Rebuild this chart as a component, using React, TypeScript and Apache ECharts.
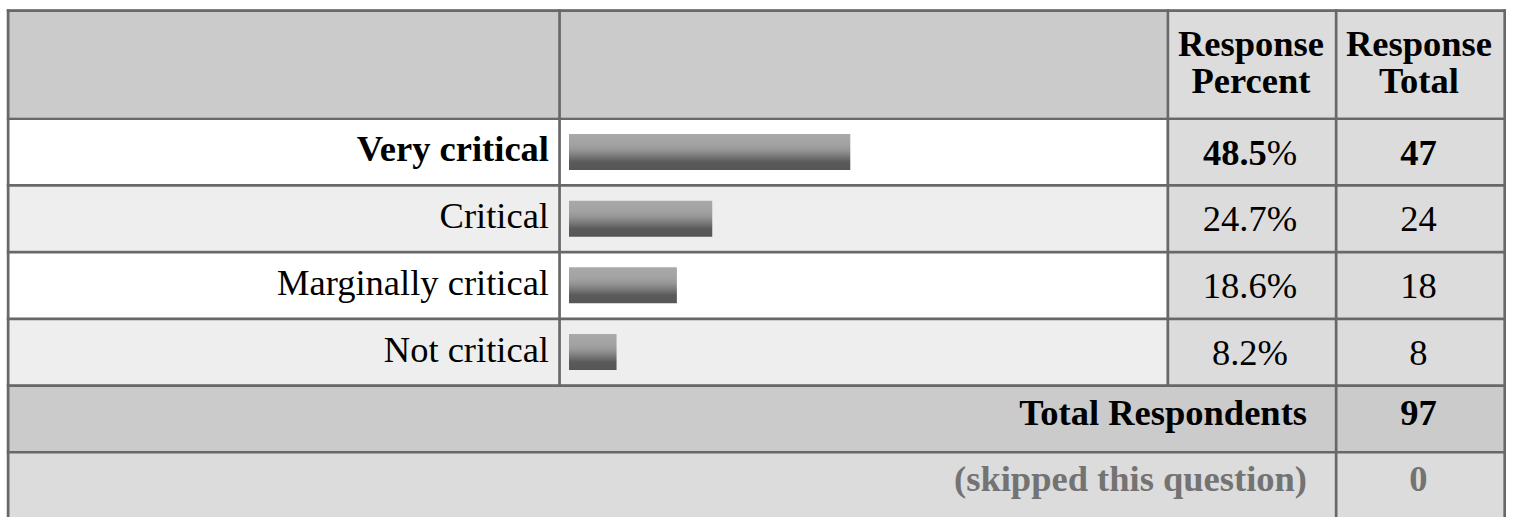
import React, { useEffect, useRef } from "react";
import * as echarts from "echarts";

// ---- data ----
const categories = ["Very critical", "Critical", "Marginally critical", "Not critical"];
const percents = [48.5, 24.7, 18.6, 8.2];
const counts = [47, 24, 18, 8];
const boldRow = 0;
const headerTexts = [
  ["Response", "Percent"],
  ["Response", "Total"],
];
const footerLabels = ["Total Respondents", "(skipped this question)"];
const footerValues = [97, 0];

// ---- layout / style ----
const W = 1516;
const H = 517;
const FONT = '"Liberation Serif", "Times New Roman", serif';
const FS = 36.5;
const LINE = 2.7;
const LINE_COLOR = "#686868";
const colX = [6.8, 558.2, 1166.5, 1334.8, 1503.3];
const rowY = [9.3, 117.4, 184.1, 250.8, 317.5, 384.2, 450.9];

function buildGraphic() {
  const g: any[] = [];
  const rect = (x: number, y: number, w: number, h: number, fill: string, z: number) =>
    g.push({ type: "rect", silent: true, z, shape: { x, y, width: w, height: h }, style: { fill } });
  const text = (x: number, y: number, t: string, opts: any) =>
    g.push({
      type: "text",
      silent: true,
      z: 20,
      x,
      y,
      style: {
        text: t,
        fontFamily: FONT,
        fontSize: FS,
        fill: "#000",
        align: "center",
        verticalAlign: "middle",
        ...opts,
      },
    });

  // backgrounds
  rect(colX[0], rowY[0], colX[2] - colX[0], rowY[1] - rowY[0], "#cbcbcb", -5);
  rect(colX[2], rowY[0], colX[4] - colX[2], rowY[1] - rowY[0], "#dcdcdc", -5);
  categories.forEach((_, i) => {
    const y0 = rowY[1 + i];
    const y1 = rowY[2 + i];
    rect(colX[0], y0, colX[2] - colX[0], y1 - y0, i % 2 ? "#eeeeee" : "#ffffff", -5);
    rect(colX[2], y0, colX[4] - colX[2], y1 - y0, "#dcdcdc", -5);
  });
  rect(colX[0], rowY[5], colX[4] - colX[0], rowY[6] - rowY[5], "#cbcbcb", -5);
  rect(colX[0], rowY[6], colX[4] - colX[0], H - rowY[6], "#dcdcdc", -5);

  // grid lines
  rowY.forEach((y) => rect(colX[0], y, colX[4] + LINE - colX[0], LINE, LINE_COLOR, 10));
  [colX[0], colX[3], colX[4]].forEach((x) => rect(x, rowY[0], LINE, H - rowY[0], LINE_COLOR, 10));
  [colX[1], colX[2]].forEach((x) => rect(x, rowY[0], LINE, rowY[5] + LINE - rowY[0], LINE_COLOR, 10));

  const c3 = (colX[2] + LINE + colX[3]) / 2;
  const c4 = (colX[3] + LINE + colX[4]) / 2;

  // headers (two lines each)
  const hy = [43, 80];
  headerTexts.forEach((lines, k) => {
    const cx = k === 0 ? c3 - 1 : c4 - 1.5;
    lines.forEach((ln, j) => text(cx, hy[j], ln, { fontWeight: "bold" }));
  });

  // data cells
  const pitch = (rowY[5] - rowY[1]) / categories.length;
  categories.forEach((_, i) => {
    const cy = rowY[1] + LINE / 2 + pitch * (i + 0.5);
    const bold = i === boldRow;
    const pt = percents[i].toFixed(1);
    text(c3 - 2, cy, bold ? `{b|${pt}}{n|%}` : `${pt}%`, {
      rich: {
        b: { fontFamily: FONT, fontSize: FS, fontWeight: "bold", fill: "#000" },
        n: { fontFamily: FONT, fontSize: FS, fill: "#000" },
      },
    });
    text(c4 - 2, cy, String(counts[i]), { fontWeight: bold ? "bold" : "normal" });
  });

  // footer rows
  const fy = [412, 478.5];
  const fColors = ["#000", "#737373"];
  footerLabels.forEach((lab, i) => {
    text(1307, fy[i], lab, { fontWeight: "bold", align: "right", fill: fColors[i] });
    text(c4 - 2, fy[i], String(footerValues[i]), { fontWeight: "bold", fill: fColors[i] });
  });
  return g;
}

export default function App() {
  const ref = useRef<HTMLDivElement>(null);
  useEffect(() => {
    if (!ref.current) return;
    const chart = echarts.init(ref.current, undefined, { renderer: "svg" });
    const labelStyle = { fontFamily: FONT, fontSize: FS, color: "#000", padding: [0, 0, 6, 0] };
    chart.setOption({
      animation: false,
      backgroundColor: "#ffffff",
      grid: { left: 569, width: 580, top: 118.6, height: 266.8, containLabel: false },
      xAxis: { type: "value", min: 0, max: 100, show: false },
      yAxis: {
        type: "category",
        data: categories,
        inverse: true,
        axisLine: { show: false },
        axisTick: { show: false },
        splitLine: { show: false },
        axisLabel: {
          margin: 20,
          formatter: (v: string, i: number) => (i === boldRow ? `{b|${v}}` : `{n|${v}}`),
          rich: {
            b: { ...labelStyle, fontWeight: "bold" },
            n: { ...labelStyle },
          },
        },
      },
      series: [
        {
          type: "bar",
          data: percents,
          barWidth: 36,
          z: 3,
          itemStyle: {
            color: new echarts.graphic.LinearGradient(0, 0, 0, 1, [
              { offset: 0, color: "#a9a9a9" },
              { offset: 0.3, color: "#a2a2a2" },
              { offset: 0.45, color: "#959595" },
              { offset: 0.6, color: "#7c7c7c" },
              { offset: 0.72, color: "#656565" },
              { offset: 0.78, color: "#5a5a5a" },
              { offset: 1, color: "#565656" },
            ]),
          },
        },
      ],
      graphic: buildGraphic(),
    });
    return () => chart.dispose();
  }, []);
  return (
    <div
      ref={ref}
      style={{ position: "absolute", left: 0, top: 0, width: W, height: H }}
    />
  );
}
